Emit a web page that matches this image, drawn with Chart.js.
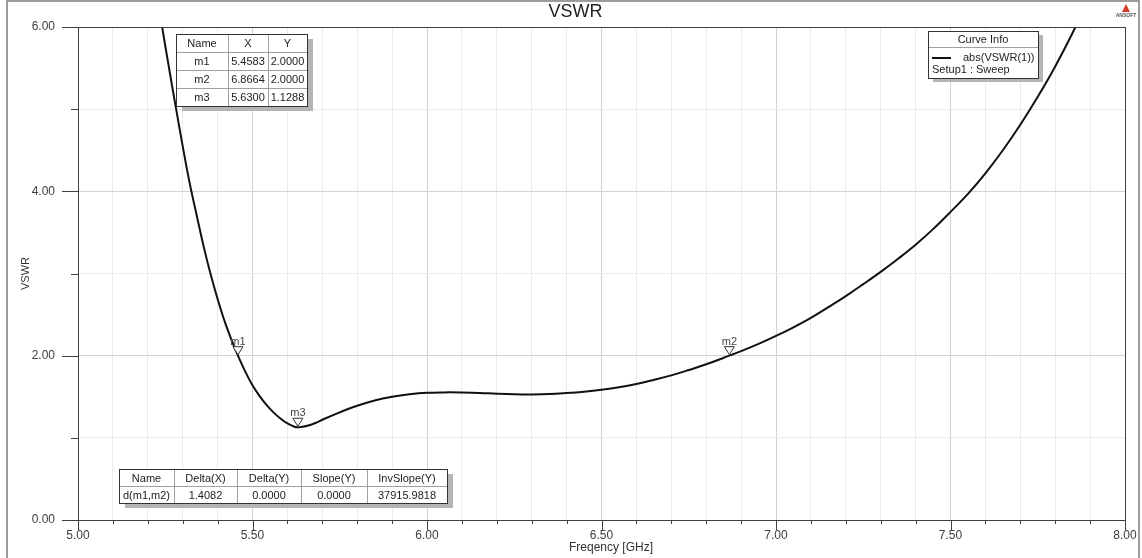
<!DOCTYPE html>
<html>
<head>
<meta charset="utf-8">
<title>VSWR</title>
<script src="https://cdn.jsdelivr.net/npm/chart.js@4.4.1/dist/chart.umd.min.js"></script>
<style>
  html, body { margin: 0; padding: 0; background: #fff; }
  #wrap { width: 1142px; height: 558px; }
</style>
</head>
<body>
<div id="wrap"><canvas id="vswrChart" width="1142" height="558"></canvas></div>
<script>
// sweep result, frequency in GHz
const freq = [5.22, 5.24, 5.26, 5.28, 5.30, 5.32, 5.34, 5.36, 5.38, 5.40, 5.42, 5.44, 5.4583,
  5.48, 5.50, 5.52, 5.54, 5.56, 5.58, 5.60, 5.62, 5.63, 5.64, 5.66, 5.68, 5.70, 5.75,
  5.80, 5.85, 5.90, 5.95, 6.00, 6.05, 6.10, 6.15, 6.20, 6.25, 6.30, 6.35, 6.40, 6.45,
  6.50, 6.55, 6.60, 6.65, 6.70, 6.75, 6.80, 6.8664, 6.90, 6.95, 7.00, 7.05, 7.10, 7.15,
  7.20, 7.25, 7.30, 7.35, 7.40, 7.45, 7.50, 7.55, 7.60, 7.65, 7.70, 7.75, 7.80, 7.85, 7.90]
const vswr = [6.56, 6.03, 5.52, 5.03, 4.55, 4.10, 3.71, 3.33, 2.99, 2.69, 2.42, 2.19, 2.00,
  1.80, 1.64, 1.51, 1.40, 1.31, 1.235, 1.175, 1.135, 1.1288, 1.133, 1.150, 1.18, 1.22, 1.31,
  1.39, 1.455, 1.50, 1.53, 1.548, 1.553, 1.552, 1.547, 1.537, 1.530, 1.528, 1.532, 1.545, 1.562,
  1.585, 1.615, 1.655, 1.705, 1.76, 1.825, 1.895, 2.00, 2.055, 2.143, 2.24, 2.345, 2.46, 2.59,
  2.725, 2.87, 3.02, 3.18, 3.35, 3.54, 3.75, 3.97, 4.22, 4.50, 4.81, 5.15, 5.52, 5.93, 6.38]

// markers
const markerNames = ['m1', 'm2', 'm3']
const markerX = [5.4583, 6.8664, 5.6300]
const markerY = [2.0000, 2.0000, 1.1288]

// delta table
const deltaHeader = ['Name', 'Delta(X)', 'Delta(Y)', 'Slope(Y)', 'InvSlope(Y)']
const deltaRow = ['d(m1,m2)', '1.4082', '0.0000', '0.0000', '37915.9818']

const curveName = 'abs(VSWR(1))'
const setupName = 'Setup1 : Sweep'

const FONT = '"Liberation Sans", Arial, sans-serif'
Chart.defaults.font.family = FONT
Chart.defaults.color = '#333'

const isMajorX = v => Math.abs(v * 2 - Math.round(v * 2)) < 1e-6
const isEven = v => Math.abs(v / 2 - Math.round(v / 2)) < 1e-6

function drawTable(ctx, x, y, cols, rowH, rows) {
  const w = cols.reduce((a, b) => a + b, 0)
  const h = rowH * rows.length
  ctx.fillStyle = '#b5b5b5'
  ctx.fillRect(x + 6, y + 5, w, h)
  ctx.fillStyle = '#fff'
  ctx.fillRect(x, y, w, h)
  ctx.strokeStyle = '#a0a0a0'
  ctx.lineWidth = 1
  ctx.beginPath()
  let cx = x
  for (let i = 0; i < cols.length - 1; i++) {
    cx += cols[i]
    ctx.moveTo(Math.round(cx) + 0.5, y)
    ctx.lineTo(Math.round(cx) + 0.5, y + h)
  }
  for (let r = 1; r < rows.length; r++) {
    ctx.moveTo(x, y + r * rowH + 0.5)
    ctx.lineTo(x + w, y + r * rowH + 0.5)
  }
  ctx.stroke()
  ctx.strokeStyle = '#333'
  ctx.strokeRect(x + 0.5, y + 0.5, w, h)
  ctx.fillStyle = '#222'
  ctx.font = '11px ' + FONT
  ctx.textAlign = 'center'
  ctx.textBaseline = 'middle'
  rows.forEach((row, r) => {
    let left = x
    row.forEach((txt, c) => {
      ctx.fillText(txt, left + cols[c] / 2, y + r * rowH + rowH / 2 + 1)
      left += cols[c]
    })
  })
}

const decor = {
  id: 'decor',
  afterDraw(chart) {
    const ctx = chart.ctx
    const xs = chart.scales.x, ys = chart.scales.y
    const area = chart.chartArea
    ctx.save()

    // titles
    ctx.fillStyle = '#222'
    ctx.font = '18px ' + FONT
    ctx.textAlign = 'center'
    ctx.textBaseline = 'middle'
    ctx.fillText('VSWR', 575.5, 12.5)
    ctx.fillStyle = '#333'
    ctx.font = '12px ' + FONT
    ctx.fillText('Freqency [GHz]', 611, 548)

    // plot frame
    ctx.strokeStyle = '#404040'
    ctx.lineWidth = 1
    ctx.strokeRect(Math.round(area.left) + 0.5, Math.round(area.top) + 0.5,
      Math.round(area.right - area.left), Math.round(area.bottom - area.top))

    // tick marks
    ctx.beginPath()
    xs.ticks.forEach(t => {
      const px = Math.round(xs.getPixelForValue(t.value)) + 0.5
      ctx.moveTo(px, area.bottom)
      ctx.lineTo(px, area.bottom + (isMajorX(t.value) ? 10 : 4))
    })
    ys.ticks.forEach(t => {
      const py = Math.round(ys.getPixelForValue(t.value)) + 0.5
      ctx.moveTo(area.left - (isEven(t.value) ? 16 : 7), py)
      ctx.lineTo(area.left, py)
    })
    ctx.stroke()

    // markers
    ctx.font = '11px ' + FONT
    ctx.textAlign = 'center'
    ctx.textBaseline = 'alphabetic'
    markerNames.forEach((name, i) => {
      const px = xs.getPixelForValue(markerX[i])
      const py = ys.getPixelForValue(markerY[i])
      ctx.beginPath()
      ctx.moveTo(px - 5, py - 9)
      ctx.lineTo(px + 5, py - 9)
      ctx.lineTo(px, py - 1)
      ctx.closePath()
      ctx.fillStyle = '#fff'
      ctx.fill()
      ctx.strokeStyle = '#333'
      ctx.stroke()
      ctx.fillStyle = '#444'
      ctx.fillText(name, px, py - 11)
    })

    // marker table
    const mRows = [['Name', 'X', 'Y']]
    markerNames.forEach((n, i) => mRows.push([n, markerX[i].toFixed(4), markerY[i].toFixed(4)]))
    drawTable(ctx, 176, 34, [52, 40, 39], 18, mRows)

    // delta table
    drawTable(ctx, 119, 469, [55, 63, 64, 66, 80], 17, [deltaHeader, deltaRow])

    // curve info box
    const bx = 928, by = 31, bw = 110, bh = 47
    ctx.fillStyle = '#b5b5b5'
    ctx.fillRect(bx + 5, by + 4, bw, bh)
    ctx.fillStyle = '#fff'
    ctx.fillRect(bx, by, bw, bh)
    ctx.strokeStyle = '#a0a0a0'
    ctx.beginPath()
    ctx.moveTo(bx, by + 16.5)
    ctx.lineTo(bx + bw, by + 16.5)
    ctx.stroke()
    ctx.strokeStyle = '#333'
    ctx.strokeRect(bx + 0.5, by + 0.5, bw, bh)
    ctx.fillStyle = '#222'
    ctx.font = '11px ' + FONT
    ctx.textBaseline = 'middle'
    ctx.textAlign = 'center'
    ctx.fillText('Curve Info', bx + bw / 2, by + 9)
    ctx.textAlign = 'left'
    ctx.fillText(curveName, 963, by + 27)
    ctx.fillText(setupName, 932, by + 39)
    ctx.strokeStyle = '#111'
    ctx.lineWidth = 2
    ctx.beginPath()
    ctx.moveTo(932, by + 27)
    ctx.lineTo(951, by + 27)
    ctx.stroke()

    // logo
    ctx.fillStyle = '#d23a2a'
    ctx.beginPath()
    ctx.moveTo(1126, 4)
    ctx.lineTo(1130, 12)
    ctx.lineTo(1122, 12)
    ctx.closePath()
    ctx.fill()
    ctx.fillStyle = '#555'
    ctx.font = 'bold 5px ' + FONT
    ctx.textAlign = 'center'
    ctx.fillText('ANSOFT', 1126, 15.5)

    // outer frame
    ctx.strokeStyle = '#9c9c9c'
    ctx.lineWidth = 2
    ctx.strokeRect(7, 1, 1132, 600)
    ctx.restore()
  }
}

new Chart(document.getElementById('vswrChart'), {
  type: 'line',
  data: {
    datasets: [{
      label: curveName,
      data: freq.map((f, i) => ({ x: f, y: vswr[i] })),
      borderColor: '#111',
      borderWidth: 2,
      pointRadius: 0,
      tension: 0.4,
      fill: false
    }]
  },
  options: {
    responsive: false,
    animation: false,
    devicePixelRatio: 1,
    layout: { padding: { left: 0, right: 17, top: 27, bottom: 0 } },
    plugins: {
      legend: { display: false },
      tooltip: { enabled: false },
      title: { display: false }
    },
    scales: {
      x: {
        type: 'linear',
        min: 5, max: 8,
        afterFit: s => { s.height = 38; s.paddingLeft = 0; s.paddingRight = 0 },
        ticks: {
          stepSize: 0.1,
          autoSkip: false,
          maxRotation: 0,
          padding: 8,
          color: '#404040',
          font: { size: 12 },
          callback: v => isMajorX(v) ? v.toFixed(2) : ''
        },
        grid: {
          drawTicks: false,
          color: c => isMajorX(c.tick.value) ? '#d2d2d2' : '#ebebeb'
        },
        border: { color: '#404040' }
      },
      y: {
        min: 0, max: 6,
        afterFit: s => { s.width = 78; s.paddingTop = 0; s.paddingBottom = 0 },
        ticks: {
          stepSize: 1,
          padding: 23,
          color: '#404040',
          font: { size: 12 },
          callback: v => isEven(v) ? v.toFixed(2) : ''
        },
        grid: {
          drawTicks: false,
          color: c => isEven(c.tick.value) ? '#d2d2d2' : '#ebebeb'
        },
        border: { color: '#404040' },
        title: {
          display: true,
          text: 'VSWR',
          color: '#333',
          font: { size: 11 },
          padding: { top: 19, bottom: 0 }
        }
      }
    }
  },
  plugins: [decor]
})
</script>
</body>
</html>
